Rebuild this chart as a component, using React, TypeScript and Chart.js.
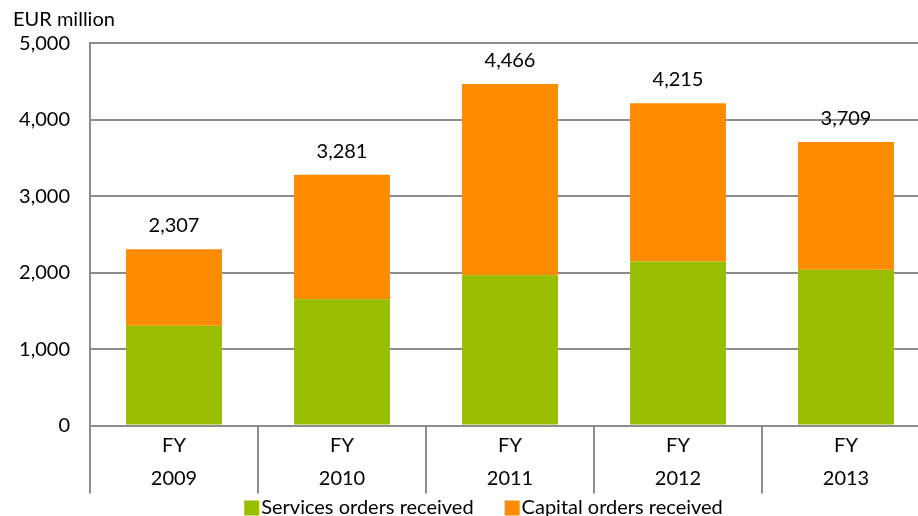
import React, { useEffect, useRef } from "react";
import { Chart, registerables } from "chart.js";

Chart.register(...registerables);

const categories: string[][] = [
  ["FY", "2009"],
  ["FY", "2010"],
  ["FY", "2011"],
  ["FY", "2012"],
  ["FY", "2013"],
];
const servicesOrders = [1306, 1652, 1966, 2144, 2039];
const capitalOrders = [1001, 1629, 2500, 2071, 1670];
const yTicks = [0, 1000, 2000, 3000, 4000, 5000];

const FONT = "Lato";
const GRID = "#8c8c8c";

const totalLabels = {
  id: "totalLabels",
  afterDatasetsDraw(chart: any) {
    const ctx = chart.ctx;
    const last = chart.getDatasetMeta(chart.data.datasets.length - 1);
    ctx.save();
    ctx.font = `20px ${FONT}`;
    ctx.fillStyle = "#000";
    ctx.textAlign = "center";
    ctx.textBaseline = "middle";
    last.data.forEach((el: any, i: number) => {
      const total = chart.data.datasets.reduce(
        (s: number, d: any) => s + (d.data[i] as number),
        0
      );
      ctx.fillText(total.toLocaleString("en-US"), el.x, el.y - 23.5);
    });
    ctx.restore();
  },
};

// Legend drawn from the datasets (labels + colours), centred like the original.
const bottomLegend = {
  id: "bottomLegend",
  afterDraw(chart: any) {
    const ctx = chart.ctx;
    const box = 15;
    const textGap = 2;
    const itemGap = 31;
    const centerX = 483.5;
    const boxTop = 500.5;
    const baseline = 514;
    ctx.save();
    ctx.font = `20px ${FONT}`;
    const items = chart.data.datasets.map((d: any) => ({
      text: d.label as string,
      color: d.backgroundColor as string,
      w: ctx.measureText(d.label).width,
    }));
    const total =
      items.reduce((s: number, it: any) => s + box + textGap + it.w, 0) +
      itemGap * (items.length - 1);
    let x = centerX - total / 2;
    ctx.textAlign = "left";
    ctx.textBaseline = "alphabetic";
    items.forEach((it: any) => {
      ctx.fillStyle = it.color;
      ctx.fillRect(x, boxTop, box, box);
      ctx.fillStyle = "#000";
      ctx.fillText(it.text, x + box + textGap, baseline);
      x += box + textGap + it.w + itemGap;
    });
    ctx.restore();
  },
};

export default function App() {
  const ref = useRef<HTMLCanvasElement>(null);
  useEffect(() => {
    if (!ref.current) return;
    const chart = new Chart(ref.current, {
      type: "bar",
      data: {
        labels: categories,
        datasets: [
          {
            label: "Services orders received",
            data: servicesOrders,
            backgroundColor: "#99bd00",
            categoryPercentage: 1,
            barPercentage: 0.571,
          },
          {
            label: "Capital orders received",
            data: capitalOrders,
            backgroundColor: "#ff8c00",
            categoryPercentage: 1,
            barPercentage: 0.571,
          },
        ],
      },
      options: {
        animation: false,
        responsive: false,
        layout: { padding: { left: 13, right: 0, top: 0, bottom: 0 } },
        scales: {
          x: {
            stacked: true,
            offset: true,
            grid: {
              offset: true,
              drawOnChartArea: false,
              drawTicks: true,
              tickLength: 68,
              color: GRID,
              lineWidth: 2,
            },
            border: { display: true, color: GRID, width: 2 },
            ticks: {
              padding: -64,
              color: "#000",
              font: { family: FONT, size: 20, lineHeight: 1.65 },
              maxRotation: 0,
              autoSkip: false,
            },
            afterFit: (s: any) => {
              s.height = 90.5;
            },
          },
          y: {
            stacked: true,
            min: 0,
            max: 5000,
            afterBuildTicks: (s: any) => {
              s.ticks = yTicks.map((v) => ({ value: v }));
            },
            grid: { color: GRID, lineWidth: 2, drawTicks: false },
            border: { display: true, color: GRID, width: 2 },
            ticks: {
              padding: 20,
              color: "#000",
              font: { family: FONT, size: 20 },
              callback: (v: any) => Number(v).toLocaleString("en-US"),
            },
            afterFit: (s: any) => {
              s.width = 77;
            },
          },
        },
        plugins: {
          title: {
            display: true,
            text: "EUR million",
            align: "start",
            color: "#000",
            font: { family: FONT, size: 20, weight: "normal", lineHeight: 1.2 },
            padding: { top: 7.5, bottom: 11.8 },
          },
          legend: { display: false },
          tooltip: { enabled: false },
        },
      } as any,
      plugins: [totalLabels, bottomLegend],
    });
    return () => chart.destroy();
  }, []);
  return (
    <div
      style={{
        position: "absolute",
        left: 0,
        top: 0,
        width: 918,
        height: 516,
        overflow: "hidden",
        background: "#fff",
      }}
    >
      <canvas ref={ref} width={930} height={516} style={{ display: "block" }} />
    </div>
  );
}
